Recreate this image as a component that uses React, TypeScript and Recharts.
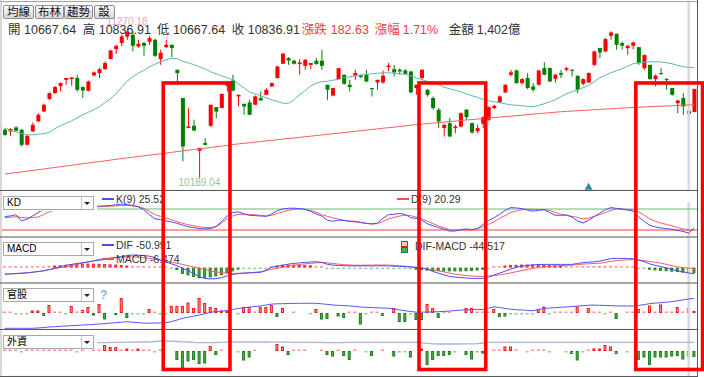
import React from 'react';
import { ComposedChart, Bar, Line, XAxis, YAxis, CartesianGrid, ReferenceLine, ReferenceDot } from 'recharts';

// ---------------- data ----------------
const OPEN = [10539,10527,10556,10539,10429,10527,10600,10672,10763,10806,
10859,10903,10908,10916,10850,10823,10936,10952,10981,11054,
11127,11171,11217,11231,11146,11171,11180,11195,11054,11141,
11158,10976,10770,10551,10568,10386,10442,10568,10704,10697,
10859,10898,10782,10728,10738,10721,10770,10794,10855,10916,
11020,11061,11042,11018,11005,11012,11042,11042,10867,10789,
10908,10940,10867,10935,10933,10940,10843,10884,10884,10996,
10981,10976,10971,10964,10843,10916,10830,10770,10685,10551,
10587,10551,10563,10685,10587,10529,10583,10612,10697,10738,
10811,10940,10971,10879,10916,10855,10867,10988,10988,10911,
10952,10976,10976,10933,10874,10884,11012,11134,11110,11224,
11239,11171,11134,11151,11141,10988,11012,10908,10952,10908,
10843,10733,10770,10677,10667.64];
const HIGH = [10551,10551,10563,10544,10502,10592,10660,10728,10811,10859,
10884,10916,10920,10940,10854,10898,10964,10988,11037,11122,
11158,11231,11270.18,11256,11195,11180,11224,11202,11122,11195,
11160,10976,10770,10697,10612,10407,10477,10721,10704,10801,
10879,10940,10794,10728,10757,10789,10818,10842,10884,11005,
11100,11069,11049,11054,11054,11025,11061,11122,10867,10843,
10988,10940,10903,10976,10940,10976,10843,10903,10971,11025,
11012,10988,10981,10964,10867,10981,10835,10782,10697,10580,
10624,10575,10665,10690,10592,10575,10636,10709,10721,10789,
10870,10976,10976,10916,10952,10879,10976,11032,10993,10945,
10976,10998,10981,10933,10913,10957,11115,11137,11207,11256,
11239,11182,11158,11182,11141,11085,11012,10940,10988,10916,
10843,10757,10806,10685,10836.91];
const LOW = [10495,10495,10527,10417,10425,10524,10597,10668,10757,10802,
10818,10867,10859,10818,10770,10818,10927,10916,10976,11054,
11092,11146,11195,11110,11137,11078,11158,11070,11012,11134,
11069,10870,10309,10551,10527,10189.04,10425,10560,10624,10697,
10818,10818,10709,10648,10648,10721,10752,10794,10850,10913,
11018,11012,11015,10940,10976,10981,11012,10976,10757,10782,
10903,10867,10818,10903,10916,10884,10781,10830,10874,10964,
10927,10940,10940,10806,10794,10903,10781,10685,10551,10490,
10486,10514,10556,10612,10510,10514,10551,10605,10690,10733,
10806,10927,10874,10867,10835,10818,10862,10935,10886,10882,
10916,10964,10927,10806,10862,10879,11005,11061,11105,11195,
11122,11122,11085,11127,11012,10976,10903,10855,10940,10830,
10787,10660,10648,10636,10667.64];
const CLOSE = [10502,10544,10532,10429,10495,10575,10648,10721,10806,10850,
10879,10916,10920,10830,10825,10891,10957,10981,11025,11117,
11151,11219,11253,11151,11166,11151,11207,11078,11100,11158,
11134,10952,10417,10563,10534,10407,10429,10721,10672,10801,
10879,10825,10794,10709,10648,10782,10752,10830,10879,11000,
11093,11044,11020,11029,11049,11025,11018,11005,10830,10843,
10988,10874,10850,10952,10923,10891,10835,10903,10933,11007,
10957,10964,10947,10811,10867,10976,10794,10697,10600,10575,
10490,10563,10660,10631,10519,10551,10631,10704,10714,10782,
10867,10957,10879,10908,10843,10830,10971,10940,10891,10940,
10940,10988,10969,10830,10908,10952,11110,11102,11200,11248,
11158,11151,11151,11175,11025,11085,10908,10933,10945,10903,
10794,10752,10709,10654.28,10836.91];
const MA_SHORT = [10553,10535,10524,10513,10502,10502,10506,10510,10521,10546,
10568,10586,10604,10626,10648,10666,10685,10706,10736,10765,
10801,10849,10892,10925,10951,10972,10998,11016,11034,11049,
11060,11056,11038,11027,11013,10998,10983,10962,10947,10932,
10918,10903,10874,10845,10816,10801,10787,10772,10757,10747,
10732,10732,10757,10794,10823,10859,10878,10889,10892,10900,
10907,10918,10925,10932,10940,10940,10947,10951,10954,10954,
10951,10947,10943,10932,10918,10903,10892,10881,10867,10849,
10838,10827,10816,10801,10787,10776,10761,10750,10743,10736,
10728,10721,10717,10714,10710,10706,10717,10728,10743,10757,
10779,10801,10816,10830,10845,10863,10889,10918,10936,10954,
10969,10983,11002,11020,11027,11031,11034,11034,11034,11027,
11020,11009,10998,10994,10991];
const MA_LONG = [10216,10221,10227,10232,10237,10243,10248,10253,10259,10264,
10270,10275,10280,10286,10291,10296,10302,10307,10312,10318,
10323,10329,10334,10339,10344,10349,10354,10359,10364,10369,
10374,10380,10385,10390,10395,10400,10405,10410,10415,10420,
10425,10431,10436,10440,10444,10449,10453,10458,10462,10466,
10471,10475,10479,10484,10488,10492,10497,10501,10506,10510,
10514,10519,10523,10527,10532,10536,10541,10545,10550,10554,
10558,10563,10567,10572,10576,10580,10584,10588,10591,10595,
10599,10602,10606,10610,10613,10617,10620,10624,10628,10631,
10635,10638,10642,10645,10649,10653,10656,10660,10663,10667,
10670,10673,10675,10678,10680,10682,10685,10687,10690,10692,
10695,10697,10699,10701,10703,10705,10707,10709,10710,10712,
10714,10716,10718,10720,10721];
const K_VALUES = [58.6,60,63.5,46,51,60,70,78,84,86,
87,87,88,87,86,87,88,88,89,90,
92,94,93,90,86,78,64,52,50,46,
43,39,34,29,27,24,23,24,30,44,
60,70,72,66,62,61,60,59,66,75,
80,82,82.5,81,79,73,66,60,48,45,
48,47,45,45,42,39,37.5,40,53,63.5,
65,67,65,55,53,48,38,32,27,22,
17,17,21,23,21,24,36,47,55,65,
76,84,83,81,77,74,76,78,70,62,
62,63,57,46,40,48,58,68,78,84,
82,80,77,74,57,45,33,29,26,24,
22,19,16,11,25.52];
const D_VALUES = [55.7,56.5,58,56,54.5,55.5,57,64,72,78,
82,84,85,85,85,85.5,86,86.5,87,88,
89,90,90.5,89,87,82,73,64,59,54,
49,44,39,35,32,29,27,27,29,40,
52,60,65,65,64,63.5,62,60,62,67,
72,76,79,80.5,79,76,71,64,59,55,
51,48,45,43,41,39,37,38,44,52,
56,60,62,61,57,52,45,38,32,26,
21,20,20,20,20,24,29,36,44,53,
61,70,74,78,79.5,79,78.5,78,76,70,
65,62,59,56,52,54,59,64,70,76,
80,79.5,79,78,72,62,52,45,40,36,
32,27,23,20.5,20.29];
const DIF = [-52,-50,-48,-45,-42,-36,-31,-26,-15,-4,
8,19,26,33,40,46,53,60,65,70,
80,88,96,101,100,97,92,80,60,45,
30,15,-5,-25,-48,-73,-87,-90,-88,-80,
-66,-55,-47,-44,-42,-40,-38,-20,3,12,
20,28,34,38,42,45,47,42,27,20,
17,15,14,14,14,15,14,14,15,14,
12,10,8,6,2,-3,-12,-30,-45,-58,
-70,-76,-80,-83,-86,-86,-86,-75,-60,-44,
-28,-12,2,12,18,22,25,26,26,26,
26,26,26,33,40,44,46,52,62,72,
74,74,74,70,60,48,30,18,8,-2,
-15,-25,-34,-42,-50.991];
const MACD = [-53,-50,-47,-44,-41,-38,-32,-24,-16,-8,
0,6,16,26,36,45,55,66,72,78,
82,85,87,86,83,78,74,67,60,52,
44,35,25,15,6,-5,-16,-27,-34,-40,
-44,-46,-46,-44,-41,-37,-32,-25,-13,-5,
4,12,19,25,30,34,38,41,38,33,
28,24,21,19,19,20,20,21,21,20,
18,15,11,6,1,-4,-10,-17,-26,-34,
-44,-52,-58,-63,-67,-70,-72,-68,-62,-58,
-50,-42,-33,-24,-15,-6,2,7,10,13,
16,18,21,25,28,31,33,35,42,50,
56,60,62,64,62,56,49,42,36,26,
16,6,0,-4,-6.474];
const OSC = [4,4,4,4,4,4,8,10,14,16,
18,22,28,30,32,32,32,30,28,26,
24,20,16,14,12,10,8,6,4,3,
-8,-20,-50,-62,-75,-85,-82,-78,-70,-60,
-45,-30,-15,-8,-5,-4,-3,-2,10,16,
22,24,24,22,20,18,12,6,-4,-5,
-6,-6,-4,-4,-4,-4,-4,-3,-3,-4,
-4,-4,-5,-10,-16,-20,-24,-26,-28,-30,
-30,-30,-30,-28,-26,-22,-16,-6,2,12,
16,20,22,24,24,24,24,22,20,18,
16,14,10,8,10,10,12,14,14,14,
12,10,8,6,-4,-10,-16,-22,-26,-28,
-32,-36,-40,-42,-44.517];
const GOV_NET = [3,2,-1,-1,-1,5,5,-6,16,2,
2,-3,14,2,6,12,-5,18,-13,0,
-4,30,-10,-3,-2,-1,8,1,-1,-1,
14,14,14,21,10,30,20,12,10,5,
5,0,-1,12,12,3,12,12,16,-8,
10,0,2,0,0,-3,8,-13,-12,0,
-7,-10,2,1,-23,-1,1,1,-6,0,
10,-18,-18,-1,-14,-14,18,10,-10,3,
3,0,0,10,10,1,3,3,8,-8,
-7,-1,-1,-2,-2,-2,8,13,-3,2,
2,2,2,13,0,10,1,1,-2,1,
-12,0,2,2,8,2,15,1,17,3,
3,12,2,10,4];
const GOV_CUM = [7,7,7,7,7,7,10,15,20,23,
27,30,33,36,40,43,46,50,54,59,
63,68,73,68,64,59,58,60,61,63,
75,90,107,118,129,140,153,167,175,179,
183,195,206,212,219,225,231,240,249,252,
253,255,256,257,257,257,257,252,246,240,
237,234,231,226,220,216,214,212,210,208,
200,191,183,175,168,168,170,171,173,176,
180,184,189,191,193,195,196,208,222,215,
205,198,193,190,186,183,195,206,210,213,
217,221,225,229,233,238,239,237,235,233,
231,230,230,230,236,244,254,259,263,268,
273,282,291,300,305];
const FOREIGN_NET = [1,1,1,-1,1,2,2,2,2,2,
2,2,1,-1,1,0,2,3,12,8,
8,3,5,2,5,2,2,-1,2,0,
0,-18,-36,-21,-18,-26,-25,10,-8,2,
0,0,-1,-19,-13,3,0,0,0,14,
9,-8,2,1,2,0,0,2,-8,-11,
2,-10,-18,2,0,-1,-10,0,2,0,
-11,-2,-2,-13,0,5,-28,-18,-10,-10,
-8,-1,0,-8,-17,-2,-5,0,1,2,
9,9,1,0,-2,2,3,1,-2,0,
0,-2,-6,-19,-2,2,5,5,12,9,
-6,0,-2,0,-18,-13,-28,-13,-13,-13,
-11,-10,-17,-11,-12];
const FOREIGN_LINE = [335,335,335,335,335,335,335,335,335,335,
335,335,335,335,335,335,335,333,334,335,
336,337,338,339,340,340,341,345,348,350,
348,345,342,340,336,334,333,333,335,337,
339,340,340,340,340,340,340,340,339,339,
338,338,337,337,337,337,336,335,334,333,
333,335,337,337,337,337,337,337,337,337,
337,337,337,337,337,332,326,322,320,320,
320,320,320,321,322,324,330,337,337,337,
337,337,337,337,337,337,337,337,337,337,
337,337,337,337,337,337,337,337,337,337,
337,337,337,337,337,337,337,337,337,337,
337,337,337,337,337];

const PRICE_TICKS = [10200, 10350, 10500, 10650, 10800, 10950, 11100, 11250];
const TOOL_BUTTONS = ['均線', '布林', '趨勢', '設'];
const HEADER_LABELS = ['開', '高', '低', '收', '漲跌', '漲幅', '金額'];
const TRADE_AMOUNT = '1,402億';
const PANEL_NAMES = ['KD', 'MACD', '官股', '外資'];
const CURSOR_IDX = 123;
const MARKER_IDX = 105;
const MARKER_PRICE = 10128;
const ANNOTATIONS = [
  { from: 29, to: 41 },
  { from: 75, to: 87 },
  { from: 114, to: 126 },
];
const ANNOT_TOP_PRICE = 10880;
const ANNOT_BOTTOM_FOREIGN = -37;

// ---------------- layout ----------------
const W = 704;
const H = 377;
const ML = 2;
const MR = 3;
const AXW = 4;
const PLOT_L = ML;
const PLOT_R = W - MR - AXW;
const N = OPEN.length;
const BAND = (PLOT_R - PLOT_L) / N;

const PRICE_DOMAIN: [number, number] = [10100, 11470];
const MAIN = { top: 0, height: 191, mt: 2, mb: 1 };
const KDP = { top: 190, height: 47, mt: 12, mb: 0 };
const MACDP = { top: 237, height: 46, mt: 0, mb: 1 };
const GOVP = { top: 283, height: 46, mt: 0, mb: 0 };
const FGNP = { top: 329, height: 47, mt: 0, mb: 0 };
const FGN_DOMAIN: [number, number] = [-50, 44];

const RED = '#ff0000';
const GREEN = '#008000';
const FONT = '"Liberation Sans", Arial, "Noto Sans CJK TC", sans-serif';

const rows = OPEN.map((o, i) => ({
  i,
  open: o,
  high: HIGH[i],
  low: LOW[i],
  close: CLOSE[i],
  range: [LOW[i], HIGH[i]],
  maS: MA_SHORT[i],
  maL: MA_LONG[i],
  k: K_VALUES[i],
  d: D_VALUES[i],
  dif: DIF[i],
  macd: MACD[i],
  osc: OSC[i],
  gov: GOV_NET[i],
  govCum: GOV_CUM[i],
  fgn: FOREIGN_NET[i],
  fgnLine: FOREIGN_LINE[i],
}));

const last = N - 1;
let maxIdx = 0;
let minIdx = 0;
HIGH.forEach((h, i) => { if (h > HIGH[maxIdx]) maxIdx = i; });
LOW.forEach((l, i) => { if (l < LOW[minIdx]) minIdx = i; });

const priceToY = (p: number) =>
  MAIN.top + MAIN.mt + ((PRICE_DOMAIN[1] - p) / (PRICE_DOMAIN[1] - PRICE_DOMAIN[0])) * (MAIN.height - MAIN.mt - MAIN.mb);
const fgnToY = (v: number) =>
  FGNP.top + FGNP.mt + ((FGN_DOMAIN[1] - v) / (FGN_DOMAIN[1] - FGN_DOMAIN[0])) * (FGNP.height - FGNP.mt - FGNP.mb);

// ---------------- shapes ----------------
function Candle(props: any) {
  const { x, y, width, height, payload } = props;
  if (!payload) return null;
  const { open, close, high, low } = payload;
  const top = Math.min(y, y + height);
  const h = Math.abs(height);
  const span = high - low;
  const ratio = span > 0 ? h / span : 0;
  const yOf = (v: number) => top + (high - v) * ratio;
  const up = close >= open;
  const color = up ? RED : GREEN;
  const cx = x + width / 2;
  const bTop = yOf(Math.max(open, close));
  const bBot = yOf(Math.min(open, close));
  return (
    <g>
      <line x1={cx} x2={cx} y1={top} y2={top + h} stroke={color} strokeWidth={1} />
      <rect x={x} y={bTop} width={width} height={Math.max(1, bBot - bTop)} fill={color} />
    </g>
  );
}

const makeSignedBar = (key: string) => (props: any) => {
  const { x, y, width, height, payload } = props;
  const v = payload ? payload[key] : 0;
  if (!v) return null;
  const top0 = Math.min(y, y + height);
  const h0 = Math.abs(height);
  const pos = v > 0;
  const zeroY = pos ? top0 + h0 : top0;
  const small = h0 < 1.8;
  const h = Math.max(h0, 1.5);
  const t = pos ? zeroY - h : zeroY;
  if (small) {
    return <rect x={x} y={t} width={width} height={h} fill={pos ? '#ff8f8f' : '#8fcf8f'} />;
  }
  return (
    <rect
      x={x + 0.5}
      y={t + 0.5}
      width={width - 1}
      height={h - 1}
      fill={pos ? '#ff9a9a' : '#55aa55'}
      stroke={pos ? '#f01818' : '#1c7f1c'}
      strokeWidth={1}
    />
  );
};
const OscBar = makeSignedBar('osc');
const GovBar = makeSignedBar('gov');
const FgnBar = makeSignedBar('fgn');

const Triangle = (p: any) => (
  <path d={`M${p.cx},${p.cy - 3.5} L${p.cx + 4},${p.cy + 3.5} L${p.cx - 4},${p.cy + 3.5} Z`} fill="#2a9090" />
);

// ---------------- small UI pieces ----------------
function Dropdown({ label, top, maskTop, maskBottom }: any) {
  return (
    <>
      <div style={{ position: 'absolute', left: 2, top: maskTop, width: 95, height: maskBottom - maskTop, background: '#fff' }} />
      <div
        style={{
          position: 'absolute', left: 3, top, width: 91, height: 14, boxSizing: 'border-box',
          border: '1px solid #a8a8a8', background: '#fff', fontSize: 10, lineHeight: '12px',
          paddingLeft: 3, color: '#000', fontFamily: FONT,
        }}
      >
        {label}
        <div style={{ position: 'absolute', right: 0, top: 0, width: 11, height: 12, borderLeft: '1px solid #c8c8c8' }}>
          <div style={{ position: 'absolute', left: 2, top: 5, width: 0, height: 0, borderLeft: '3px solid transparent', borderRight: '3px solid transparent', borderTop: '3px solid #222' }} />
        </div>
      </div>
    </>
  );
}

function LegendItem({ x, y, color, text }: any) {
  return (
    <>
      <div style={{ position: 'absolute', left: x, top: y - 1, width: 12, height: 2, background: color }} />
      <div style={{ position: 'absolute', left: x + 14, top: y - 7, fontSize: 10.5, lineHeight: '14px', color: '#333', fontFamily: FONT, whiteSpace: 'nowrap' }}>{text}</div>
    </>
  );
}

const fmt2 = (v: number) => v.toFixed(2);

export default function App() {
  const o = OPEN[last], h = HIGH[last], l = LOW[last], c = CLOSE[last];
  const chg = c - CLOSE[last - 1];
  const pct = (chg / CLOSE[last - 1]) * 100;
  const headerValues = [fmt2(o), fmt2(h), fmt2(l), fmt2(c), fmt2(chg), pct.toFixed(2) + '%', TRADE_AMOUNT];
  const headerX = [8, 82.7, 157, 231.7, 301.7, 374.7, 448.7];
  const headerGap = [3.5, 3.5, 3.5, 3.5, 4, 3, 3];
  const headerColor = ['#333', '#333', '#333', '#333', '#f23a3a', '#f23a3a', '#333'];
  const btnX = [3, 35, 64, 93.5];
  const btnW = [31, 29, 29, 21];

  const xAxis = <XAxis dataKey="i" type="category" scale="band" hide />;
  const cursor = <ReferenceLine x={CURSOR_IDX} stroke="#d9d9d9" strokeWidth={2.5} />;
  const margin = (p: any) => ({ top: p.mt, right: MR, bottom: p.mb, left: ML });
  const rightAxis = (domain: any, ticks: number[], id: any = 0) => (
    <YAxis yAxisId={id} orientation="right" width={AXW} domain={domain} ticks={ticks} tick={false}
      axisLine={false} tickLine={{ stroke: '#9a9a9a' }} tickSize={4} allowDataOverflow />
  );

  const sepYs = [190.5, 237, 283, 329.5, 376.5];

  return (
    <div style={{ position: 'absolute', left: 0, top: 0, width: W, height: H, background: '#fff', overflow: 'hidden', fontFamily: FONT }}>
      {/* main price panel */}
      <div style={{ position: 'absolute', left: 0, top: MAIN.top }}>
        <ComposedChart width={W} height={MAIN.height} data={rows} margin={margin(MAIN)}>
          <CartesianGrid vertical={false} stroke="#ebebeb" />
          {xAxis}
          {rightAxis(PRICE_DOMAIN, PRICE_TICKS)}
          {cursor}
          <Line dataKey="maL" stroke="#ff5c5c" strokeWidth={1} dot={false} isAnimationActive={false} />
          <Line dataKey="maS" stroke="#5cb6b6" strokeWidth={1} dot={false} isAnimationActive={false} />
          <Bar dataKey="range" barSize={4} shape={Candle} isAnimationActive={false} />
          <ReferenceDot x={maxIdx} y={HIGH[maxIdx]} r={1} fill="none" stroke="none"
            label={{ value: fmt2(HIGH[maxIdx]), position: 'top', offset: 3, fill: '#f3a3b8', fontSize: 10, fontFamily: FONT }} />
          <ReferenceDot x={minIdx} y={LOW[minIdx]} r={1} fill="none" stroke="none"
            label={{ value: fmt2(LOW[minIdx]), position: 'bottom', offset: 0, fill: '#98c498', fontSize: 10, fontFamily: FONT }} />
          <ReferenceDot x={MARKER_IDX} y={MARKER_PRICE} r={4} shape={Triangle} />
        </ComposedChart>
      </div>

      {/* KD */}
      <div style={{ position: 'absolute', left: 0, top: KDP.top }}>
        <ComposedChart width={W} height={KDP.height} data={rows} margin={margin(KDP)}>
          {xAxis}
          {rightAxis([0, 100], [20, 80])}
          {cursor}
          <ReferenceLine y={80} stroke="#6cbb6c" />
          <ReferenceLine y={20} stroke="#ff3c3c" />
          <Line dataKey="d" stroke="#ff5a5a" strokeWidth={1} dot={false} isAnimationActive={false} />
          <Line dataKey="k" stroke="#4a4aff" strokeWidth={1} dot={false} isAnimationActive={false} />
        </ComposedChart>
      </div>

      {/* MACD */}
      <div style={{ position: 'absolute', left: 0, top: MACDP.top }}>
        <ComposedChart width={W} height={MACDP.height} data={rows} margin={margin(MACDP)}>
          <CartesianGrid vertical={false} stroke="#f0f0f0" />
          {xAxis}
          {rightAxis([-115, 245], [0, 125])}
          {cursor}
          <Bar dataKey="osc" barSize={3} shape={OscBar} isAnimationActive={false} />
          <Line dataKey="macd" stroke="#ff5a5a" strokeWidth={1} dot={false} isAnimationActive={false} />
          <Line dataKey="dif" stroke="#4a4aff" strokeWidth={1} dot={false} isAnimationActive={false} />
        </ComposedChart>
      </div>

      {/* 官股 */}
      <div style={{ position: 'absolute', left: 0, top: GOVP.top }}>
        <ComposedChart width={W} height={GOVP.height} data={rows} margin={margin(GOVP)}>
          <CartesianGrid vertical={false} stroke="#efefef" />
          {xAxis}
          {rightAxis([-32, 60], [0, 30])}
          <YAxis yAxisId="line" hide domain={[0, 460]} allowDataOverflow />
          {cursor}
          <Bar dataKey="gov" barSize={3} shape={GovBar} isAnimationActive={false} />
          <Line yAxisId="line" dataKey="govCum" stroke="#5555ff" strokeWidth={1} dot={false} isAnimationActive={false} />
        </ComposedChart>
      </div>

      {/* 外資 */}
      <div style={{ position: 'absolute', left: 0, top: FGNP.top }}>
        <ComposedChart width={W} height={FGNP.height} data={rows} margin={margin(FGNP)}>
          <CartesianGrid vertical={false} stroke="#efefef" />
          {xAxis}
          {rightAxis(FGN_DOMAIN, [-32, 0, 18])}
          <YAxis yAxisId="line" hide domain={[0, 470]} allowDataOverflow />
          {cursor}
          <Line yAxisId="line" dataKey="fgnLine" stroke="#aab5d6" strokeWidth={1.3} dot={false} isAnimationActive={false} />
          <Bar dataKey="fgn" barSize={3} shape={FgnBar} isAnimationActive={false} />
        </ComposedChart>
      </div>

      {/* frame */}
      <svg width={W} height={H} style={{ position: 'absolute', left: 0, top: 0 }}>
        <line x1={0} x2={PLOT_R} y1={1.5} y2={1.5} stroke="#a5a5a5" />
        <line x1={1} x2={1} y1={0} y2={H} stroke="#b0b0b0" />
        {sepYs.map((y) => (
          <line key={y} x1={0} x2={PLOT_R} y1={y} y2={y} stroke="#5a5a5a" />
        ))}
        <line x1={PLOT_R + 0.5} x2={PLOT_R + 0.5} y1={0} y2={H} stroke="#5a5a5a" />
      </svg>

      {/* toolbar */}
      {TOOL_BUTTONS.map((b, i) => (
        <div key={b} style={{
          position: 'absolute', left: btnX[i], top: 5, width: btnW[i], height: 14, boxSizing: 'border-box',
          border: '1px solid #8e8e8e', borderRadius: 2, background: 'linear-gradient(#fdfdfd, #d6d6d6)',
          fontSize: 11.5, lineHeight: '12px', textAlign: 'center', color: '#111',
        }}>{b}</div>
      ))}

      {/* header values */}
      {HEADER_LABELS.map((lab, i) => (
        <div key={lab} style={{ position: 'absolute', left: headerX[i], top: 22, fontSize: 12.5, lineHeight: '16px', color: headerColor[i], whiteSpace: 'nowrap' }}>
          <span>{lab}</span><span style={{ marginLeft: headerGap[i] }}>{headerValues[i]}</span>
        </div>
      ))}

      {/* panel dropdowns */}
      <Dropdown label={PANEL_NAMES[0]} top={195.5} maskTop={193} maskBottom={210.5} />
      <Dropdown label={PANEL_NAMES[1]} top={242} maskTop={241} maskBottom={257} />
      <Dropdown label={PANEL_NAMES[2]} top={288} maskTop={287} maskBottom={303} />
      <Dropdown label={PANEL_NAMES[3]} top={334.5} maskTop={333} maskBottom={349} />

      {/* legends */}
      <LegendItem x={102} y={198.5} color="#4a4aff" text={`K(9) ${fmt2(K_VALUES[last])}`} />
      <LegendItem x={397} y={199} color="#ff4a4a" text={`D(9) ${fmt2(D_VALUES[last])}`} />
      <LegendItem x={102} y={244.5} color="#4a4aff" text={`DIF ${DIF[last].toFixed(3)}`} />
      <LegendItem x={102} y={259} color="#ff4a4a" text={`MACD ${MACD[last].toFixed(3)}`} />
      <div style={{ position: 'absolute', left: 401, top: 241, width: 5, height: 4, border: '1px solid #f01818', background: '#ffd0d0' }} />
      <div style={{ position: 'absolute', left: 401, top: 246.5, width: 5, height: 4, border: '1px solid #1c7f1c', background: '#55aa55' }} />
      <div style={{ position: 'absolute', left: 415, top: 239, fontSize: 10.5, lineHeight: '14px', color: '#333', whiteSpace: 'nowrap' }}>
        {`DIF-MACD ${OSC[last].toFixed(3)}`}
      </div>
      <div style={{ position: 'absolute', left: 100, top: 287, fontSize: 12, lineHeight: '16px', color: '#86b2e6', fontWeight: 'bold' }}>?</div>

      {/* annotation boxes */}
      <svg width={W} height={H} style={{ position: 'absolute', left: 0, top: 0 }}>
        {ANNOTATIONS.map((a, i) => {
          const x1 = PLOT_L + a.from * BAND;
          const x2 = PLOT_L + a.to * BAND;
          const y1 = priceToY(ANNOT_TOP_PRICE);
          const y2 = fgnToY(ANNOT_BOTTOM_FOREIGN);
          return <rect key={i} x={x1} y={y1} width={x2 - x1} height={y2 - y1} fill="none" stroke="#ff0000" strokeWidth={3.6} />;
        })}
      </svg>
    </div>
  );
}
